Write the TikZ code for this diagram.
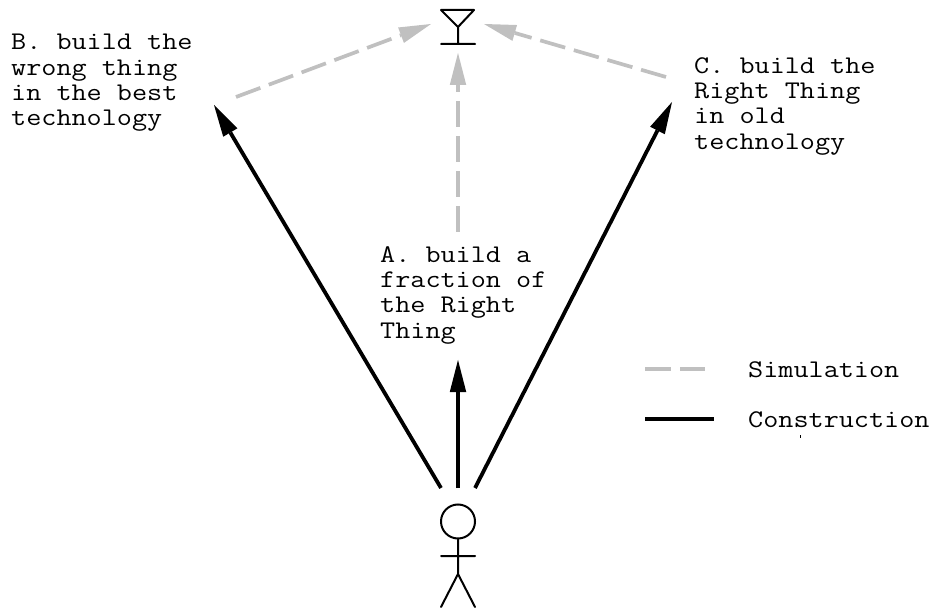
\documentclass[tikz,border=0pt]{standalone}
\usepackage{fontspec}
\setmonofont[FakeStretch=1.155]{Latin Modern Mono}
\usetikzlibrary{arrows.meta}
\definecolor{simgray}{RGB}{192,192,192}
\tikzset{
  lbl/.style={font=\ttfamily\fontsize{25.4}{25.4}\selectfont,align=left,anchor=north west,inner sep=0pt,text=black},
  build/.style={line width=3.8pt,black,-{Triangle[length=32pt,width=16.5pt,line width=0pt]}},
  sim/.style={line width=3.7pt,simgray,dash pattern=on 26pt off 9pt,-{Triangle[length=32pt,width=16.5pt,line width=0pt]}},
  fig/.style={line width=2pt,black,line cap=round,line join=round},
}
\begin{document}
\begin{tikzpicture}[x=1pt,y=-1pt]
\useasboundingbox (0,0) rectangle (934,609);
% goal
\coordinate (gl) at (441,10); \coordinate (gr) at (474,10); \coordinate (ga) at (458,27);
\coordinate (gb) at (458,44); \coordinate (gbl) at (441,44); \coordinate (gbr) at (475,44);
\draw[fig] (gl) -- (gr) -- (ga) -- cycle (ga) -- (gb) (gbl) -- (gbr);
% person
\node[draw,circle,line width=2pt,minimum size=34pt,inner sep=0pt] (head) at (458,521.5) {};
\coordinate (al) at (441,556); \coordinate (ar) at (475,556);
\coordinate (hip) at (458,574); \coordinate (ll) at (441,607); \coordinate (lr) at (475,607);
\draw[fig] (head.south) -- (hip) (al) -- (ar) (ll) -- (hip) -- (lr);
% labels
\node[lbl] (b) at (11,34) {B. build the\\wrong thing\\in the best\\technology};
\node[lbl] (c) at (694,57) {C. build the\\Right Thing\\in old\\technology};
\node[lbl] (a) at (380,246) {A. build a\\fraction of\\the Right\\Thing};
% arrows
\coordinate (s0) at (458,488); \coordinate (sl) at (441,488); \coordinate (sr) at (475,488);
\coordinate (pa) at (458,360); \coordinate (pb) at (214,105); \coordinate (pc) at (672,102);
\draw[build] (s0) -- (pa);
\draw[build] (sl) -- (pb);
\draw[build] (sr) -- (pc);
\coordinate (qa) at (458,232); \coordinate (qb) at (236,97); \coordinate (qc) at (666,77);
\coordinate (ta) at (458,53); \coordinate (tb) at (431,24); \coordinate (tc) at (484,24);
\draw[sim] (qa) -- (ta);
\draw[sim] (qb) -- (tb);
\draw[sim] (qc) -- (tc);
% legend
\coordinate (k1) at (645,369); \coordinate (k2) at (705,369);
\coordinate (k3) at (645,419); \coordinate (k4) at (714,419);
\draw[line width=3.7pt,simgray,dash pattern=on 26pt off 9pt] (k1) -- (k2);
\draw[line width=3.8pt,black] (k3) -- (k4);
\node[lbl] (ls) at (748,361) {Simulation};
\node[lbl] (lc) at (748,411) {Construction};
\coordinate (t1) at (800,435); \coordinate (t2) at (800,438);
\draw[line width=0.7pt,black] (t1) -- (t2);
\end{tikzpicture}
\end{document}
